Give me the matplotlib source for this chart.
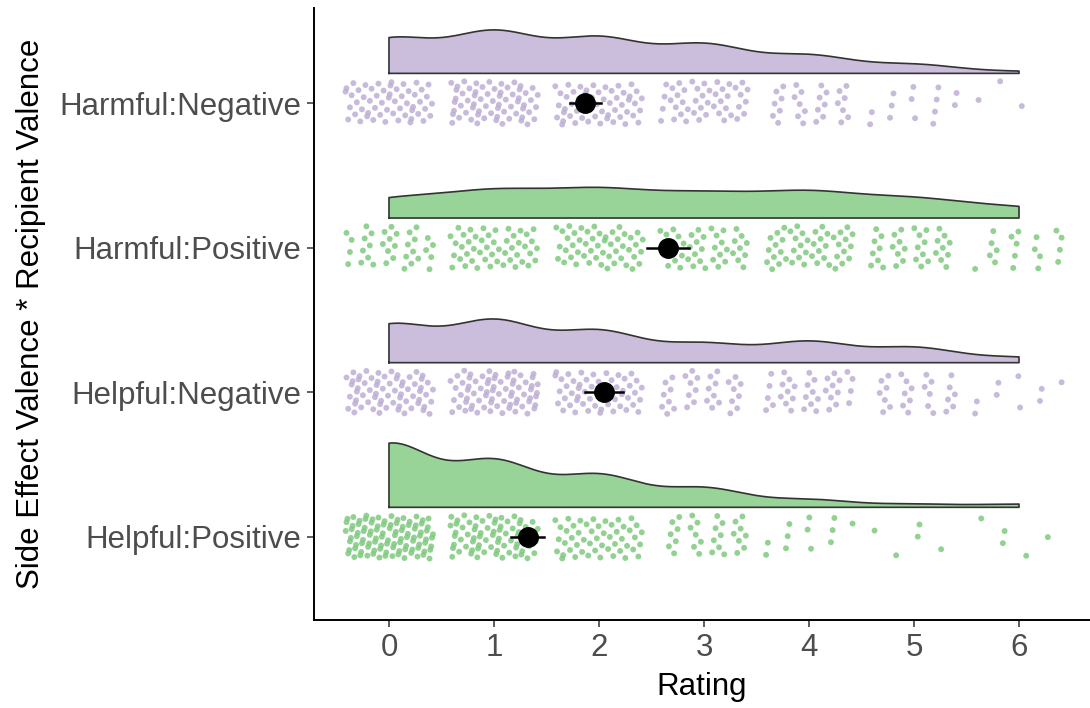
import numpy as np
import matplotlib
matplotlib.use("Agg")
import matplotlib.pyplot as plt

# ---- data ----
groups = ["Helpful:Positive", "Helpful:Negative", "Harmful:Positive", "Harmful:Negative"]
rating_levels = [0, 1, 2, 3, 4, 5, 6]
counts_helpful_positive = [100, 72, 50, 30, 12, 5, 5]
counts_helpful_negative = [66, 72, 54, 32, 36, 26, 9]
counts_harmful_positive = [35, 48, 50, 42, 46, 34, 19]
counts_harmful_negative = [55, 65, 55, 45, 28, 14, 3]
group_means = [1.32, 2.05, 2.66, 1.87]
group_ci = [0.16, 0.18, 0.20, 0.15]
group_colors = ["#7FC97F", "#BEAED4", "#7FC97F", "#BEAED4"]
xlabel = "Rating"
ylabel = "Side Effect Valence * Recipient Valence"
xticks = [0, 1, 2, 3, 4, 5, 6]

all_counts = [counts_helpful_positive, counts_helpful_negative,
              counts_harmful_positive, counts_harmful_negative]

plt.rcParams['font.family'] = ['Liberation Sans', 'DejaVu Sans']

fig = plt.figure(figsize=(10.9, 7.08), dpi=100)
ax = fig.add_axes([314/1090, 88/708, 1 - 314/1090, 612/708])


def kde(values, grid, adjust=0.95):
    n = len(values)
    sd = np.std(values, ddof=1)
    q75, q25 = np.percentile(values, [75, 25])
    bw = adjust * 0.9 * min(sd, (q75 - q25) / 1.34) * n ** (-0.2)
    z = (grid[:, None] - values[None, :]) / bw
    return np.exp(-0.5 * z ** 2).sum(axis=1) / (n * bw * np.sqrt(2 * np.pi))


grid = np.linspace(0, 6, 400)
dens = []
samples = []
for c in all_counts:
    v = np.repeat(np.array(rating_levels, dtype=float), c)
    samples.append(v)
    dens.append(kde(v, grid))
dmax = max(d.max() for d in dens)
peak_height = 0.445
violin_offset = 0.205

# deterministic low-discrepancy jitter (R2 sequence)
g = 1.32471795724474602596
a1, a2 = 1.0 / g, 1.0 / (g * g)

for i, (v, d, col) in enumerate(zip(samples, dens, group_colors)):
    ypos = i + 1
    base = ypos + violin_offset
    top = base + d / dmax * peak_height
    xs = np.concatenate([[grid[0]], grid, [grid[-1]]])
    ys = np.concatenate([[base], top, [base]])
    ax.fill(xs, ys, facecolor=col, alpha=0.8, edgecolor="none", zorder=2)
    ax.plot(np.append(xs, xs[0]), np.append(ys, ys[0]), color="#333333", lw=1.2, zorder=3)

    k = np.arange(1, len(v) + 1) + 17 * i
    jx = ((0.5 + a1 * k) % 1.0 - 0.5) * 0.84
    jy = ((0.5 + a2 * k) % 1.0 - 0.5) * 0.30
    ax.scatter(v + jx, ypos + jy, s=18, color=col, alpha=0.85, edgecolors="none", zorder=4)

    ax.plot([group_means[i] - group_ci[i], group_means[i] + group_ci[i]], [ypos, ypos],
            color="black", lw=1.8, zorder=5)
    ax.plot(group_means[i], ypos, "o", color="black", ms=14, zorder=6)

ax.set_xlim(-0.714, 6.676)
ax.set_ylim(0.426, 4.657)
ax.set_yticks(range(1, len(groups) + 1))
ax.set_yticklabels(groups)
ax.set_xticks(xticks)
ax.set_xticklabels([str(t) for t in xticks])
ax.tick_params(axis="both", labelsize=22.5, labelcolor="#4D4D4D", color="#333333",
               length=5, width=1.1, pad=4)
ax.set_xlabel(xlabel, fontsize=22.5, color="black", labelpad=7)
ax.set_ylabel(ylabel, fontsize=22.5, color="black", labelpad=10)
for s in ["top", "right"]:
    ax.spines[s].set_visible(False)
for s in ["left", "bottom"]:
    ax.spines[s].set_linewidth(1.4)
    ax.spines[s].set_color("black")

fig.savefig("out.png", dpi=100)
